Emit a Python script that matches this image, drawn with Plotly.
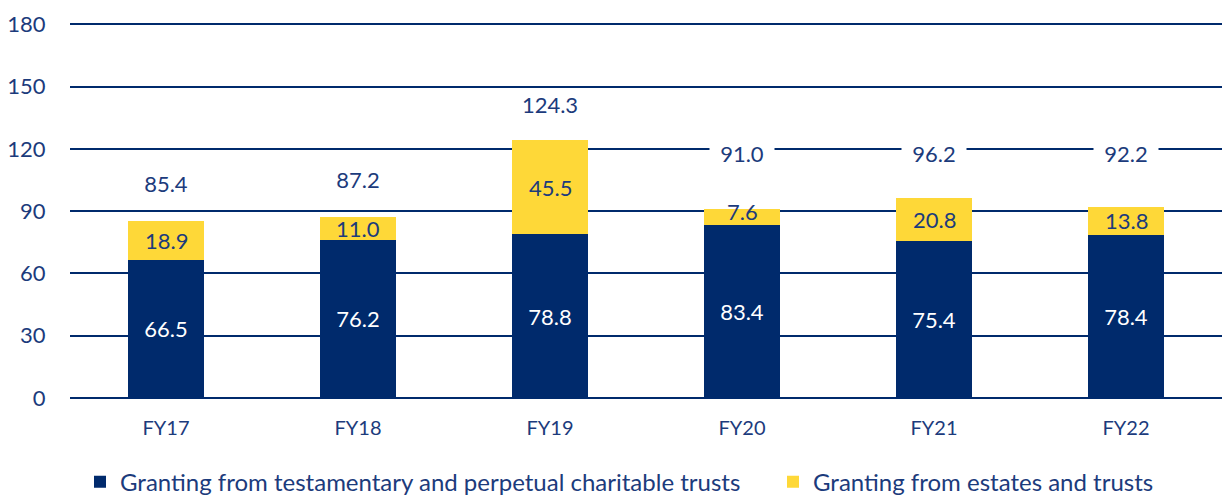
import plotly.graph_objects as go

categories = ["FY17", "FY18", "FY19", "FY20", "FY21", "FY22"]
testamentary = [66.5, 76.2, 78.8, 83.4, 75.4, 78.4]
estates = [18.9, 11.0, 45.5, 7.6, 20.8, 13.8]
totals = [85.4, 87.2, 124.3, 91.0, 96.2, 92.2]
y_ticks = [0, 30, 60, 90, 120, 150, 180]

NAVY = "#002a6c"
YELLOW = "#fed838"
TEXT = "#1c3b7c"
FONT = "Lato"

# pixel offsets of labels (style)
total_shift = [37, 37, 35, 56, 45, 53]
estate_shift = [0, 0, 0, 5, 0, 0]

fig = go.Figure()
fig.add_trace(go.Bar(
    x=categories, y=testamentary, name="Granting from testamentary and perpetual charitable trusts",
    marker=dict(color=NAVY, line=dict(width=0)), legend="legend",
    text=[f"{v:.1f}" for v in testamentary], textposition="inside", insidetextanchor="middle",
    textangle=0, constraintext="none",
    textfont=dict(color="white", size=22, family=FONT),
))
fig.add_trace(go.Bar(
    x=categories, y=estates, name="Granting from estates and trusts",
    marker=dict(color=YELLOW, line=dict(width=0)), legend="legend2",
))

for c, base, e, s in zip(categories, testamentary, estates, estate_shift):
    fig.add_annotation(x=c, y=base + e / 2, text=f"{e:.1f}", showarrow=False, yshift=s,
                       font=dict(color=TEXT, size=22, family=FONT))

for c, t, s in zip(categories, totals, total_shift):
    fig.add_annotation(x=c, y=t, text=f"{t:.1f}", showarrow=False, yshift=s,
                       font=dict(color=TEXT, size=22, family=FONT),
                       bgcolor="white", borderpad=1, width=62)

leg_common = dict(orientation="h", xanchor="left", yref="container", y=0.026, yanchor="middle",
                  font=dict(size=24, color=TEXT, family=FONT), itemwidth=30, bgcolor="rgba(0,0,0,0)")
fig.update_layout(
    barmode="stack", bargap=0.6,
    width=1222, height=495,
    margin=dict(l=70, r=0, t=23, b=97, autoexpand=False),
    plot_bgcolor="white", paper_bgcolor="white",
    font=dict(family=FONT, color=TEXT, size=20),
    showlegend=True,
    legend=dict(x=(80 - 70) / 1152, **leg_common),
    legend2=dict(x=(773 - 70) / 1152, **leg_common),
)
fig.update_xaxes(showgrid=False, showline=False, ticks="outside", ticklen=12, tickcolor="rgba(0,0,0,0)",
                 automargin=False, tickfont=dict(size=20, color=TEXT, family=FONT))
fig.update_yaxes(range=[0, 180.6], tickvals=y_ticks, showgrid=True, gridcolor=NAVY, gridwidth=2,
                 zeroline=True, zerolinecolor=NAVY, zerolinewidth=2, showline=False,
                 ticks="outside", ticklen=19, tickcolor="rgba(0,0,0,0)", automargin=False,
                 tickfont=dict(size=22, color=TEXT, family=FONT))

fig.write_html("out.html", config={"displayModeBar": False},
               post_script="document.body.style.margin='0';")
